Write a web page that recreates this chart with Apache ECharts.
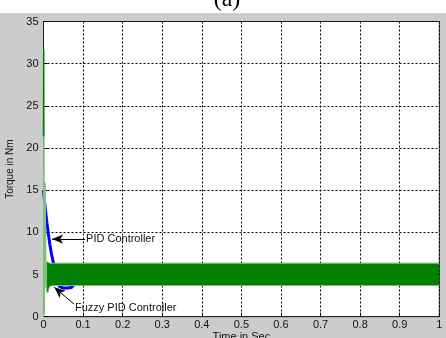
<!DOCTYPE html>
<html>
<head>
<meta charset="utf-8">
<script src="https://cdn.jsdelivr.net/npm/echarts@6/dist/echarts.min.js"></script>
<style>
  html, body { margin: 0; padding: 0; background: #ffffff; }
  #chart { width: 446px; height: 338px; }
</style>
</head>
<body>
<div id="chart"></div>
<script>
// Torque response of the drive: PID vs fuzzy PID controller

// Axis ticks
const xTicks = [0, 0.1, 0.2, 0.3, 0.4, 0.5, 0.6, 0.7, 0.8, 0.9, 1];
const yTicks = [0, 5, 10, 15, 20, 25, 30, 35];

// PID controller torque (Nm) over time (s)
const pidTime = [0, 0.003, 0.006, 0.009, 0.012, 0.016, 0.020, 0.025, 0.030, 0.035, 0.040, 0.045, 0.050, 0.060, 0.070, 0.075, 0.080, 0.090, 0.100, 0.150, 1.0];
const pidTorque = [15.0, 13.5, 12.2, 11.0, 9.9, 8.6, 7.5, 6.4, 5.2, 4.1, 3.6, 3.45, 3.4, 3.4, 3.45, 3.7, 4.0, 4.4, 4.8, 5.1, 5.1];

// Fuzzy PID torque: starting spike
const spikeTime = [0, 0.0005, 0.001];
const spikeTorque = [21.4, 31.7, 21.4];
// Fuzzy PID torque: first swings after the spike
const swingTime = [0, 0.001, 0.002, 0.004, 0.006, 0.0075];
const swingTorque = [0, 21.4, 0.3, 15.9, 3.5, 5.0];
// Fuzzy PID torque ripple: lower and upper envelope of the oscillation
const rippleTime = [0.0075, 0.008, 0.0105, 0.013, 0.016, 0.025, 1.0];
const rippleLow = [5.0, 3.0, 2.8, 3.2, 3.6, 3.7, 3.7];
const rippleHigh = [5.0, 6.5, 6.5, 6.4, 6.35, 6.35, 6.35];

// Annotation arrows (tail -> head) and their captions, in data units
const pidArrow = [[0.105, 9.2], [0.0215, 9.2]];
const pidCaption = [0.105, 9.2];
const fuzzyArrow = [[0.077, 1.5], [0.0273, 3.49]];
const fuzzyCaption = [0.077, 1.03];

const pairs = (xs, ys) => xs.map((x, i) => [x, ys[i]]);

const font = 'Arial, "Liberation Sans", Helvetica, sans-serif';
const GREEN = '#008000';
const LIGHT_GREEN = '#7fbf7f';

// Filled ripple band: upper envelope left-to-right, lower envelope back
function renderRipple(params, api) {
  if (params.dataIndex !== 0) return null;
  const upper = rippleTime.map((t, i) => api.coord([t, rippleHigh[i]]));
  const lower = rippleTime.map((t, i) => api.coord([t, rippleLow[i]])).reverse();
  return {
    type: 'group',
    children: [
      { type: 'polygon', shape: { points: upper.concat(lower) }, style: { fill: GREEN } },
      { type: 'polyline', shape: { points: upper }, style: { stroke: LIGHT_GREEN, lineWidth: 1, fill: null } },
      { type: 'polyline', shape: { points: lower }, style: { stroke: LIGHT_GREEN, lineWidth: 1, fill: null } }
    ]
  };
}

const chart = echarts.init(document.getElementById('chart'), null, { renderer: 'canvas' });

chart.setOption({
  animation: false,
  backgroundColor: '#ffffff',
  graphic: [
    { type: 'rect', z: -10, shape: { x: 0, y: 13, width: 446, height: 325 }, style: { fill: '#cccccc' } },
    { type: 'text', z: 10, x: 227, y: 0, style: { text: '(a)', font: '24px "Liberation Serif", "Times New Roman", serif', fill: '#000', align: 'center', verticalAlign: 'middle' } }
  ],
  grid: {
    left: 43.5, right: 6.7, top: 21.5, bottom: 21.3,
    containLabel: false, outerBoundsMode: 'none',
    show: true, backgroundColor: '#ffffff', borderColor: '#333333', borderWidth: 1
  },
  xAxis: {
    type: 'value', min: xTicks[0], max: xTicks[xTicks.length - 1], interval: 0.1,
    name: 'Time in Sec', nameLocation: 'middle', nameGap: 15, nameMoveOverlap: false,
    nameTextStyle: { fontFamily: font, fontSize: 11, color: '#111' },
    axisLine: { show: true, lineStyle: { color: '#222', width: 1 } },
    axisTick: { show: true, inside: true, length: 4, lineStyle: { color: '#000' } },
    axisLabel: { fontFamily: font, fontSize: 11, color: '#111', margin: 3,
      formatter: v => String(+v.toFixed(1)) },
    splitLine: { show: true, lineStyle: { color: '#000', type: [2, 2], width: 1 } }
  },
  yAxis: {
    type: 'value', min: yTicks[0], max: yTicks[yTicks.length - 1], interval: 5,
    name: 'Torque in Nm', nameLocation: 'middle', nameGap: 27,
    nameTextStyle: { fontFamily: font, fontSize: 10, color: '#111' },
    axisLine: { show: true, lineStyle: { color: '#222', width: 1 } },
    axisTick: { show: true, inside: true, length: 4, lineStyle: { color: '#000' } },
    axisLabel: { fontFamily: font, fontSize: 11, color: '#111', margin: 5 },
    splitLine: { show: true, lineStyle: { color: '#000', type: [2, 2], width: 1 } }
  },
  series: [
    {
      name: 'PID Controller', type: 'line', z: 2, symbol: 'none', smooth: false,
      data: pairs(pidTime, pidTorque),
      lineStyle: { color: '#0000ff', width: 3 },
      markLine: {
        silent: true, symbol: ['none', 'arrow'], symbolSize: [7, 11],
        lineStyle: { color: '#000', width: 1, type: 'solid' },
        label: { show: false },
        data: [
          [{ coord: pidArrow[0] }, { coord: pidArrow[1] }],
          [{ coord: fuzzyArrow[0] }, { coord: fuzzyArrow[1] }]
        ]
      },
      markPoint: {
        silent: true, symbol: 'circle', symbolSize: 0,
        label: { show: true, position: 'right', distance: 1, fontFamily: font, fontSize: 11, color: '#111' },
        data: [
          { coord: pidCaption, label: { formatter: 'PID Controller' } },
          { coord: fuzzyCaption, label: { formatter: 'Fuzzy PID Controller' } }
        ]
      }
    },
    {
      name: 'Fuzzy PID Controller', type: 'custom', z: 3, clip: true,
      renderItem: renderRipple,
      data: pairs(rippleTime, rippleHigh),
      encode: { x: 0, y: 1 }
    },
    {
      name: 'fuzzy-swing', type: 'line', z: 4, symbol: 'none',
      data: pairs(swingTime, swingTorque),
      lineStyle: { color: LIGHT_GREEN, width: 1.5 }
    },
    {
      name: 'fuzzy-spike', type: 'line', z: 4, symbol: 'none',
      data: pairs(spikeTime, spikeTorque),
      lineStyle: { color: GREEN, width: 1.5 }
    }
  ]
});
</script>
</body>
</html>
